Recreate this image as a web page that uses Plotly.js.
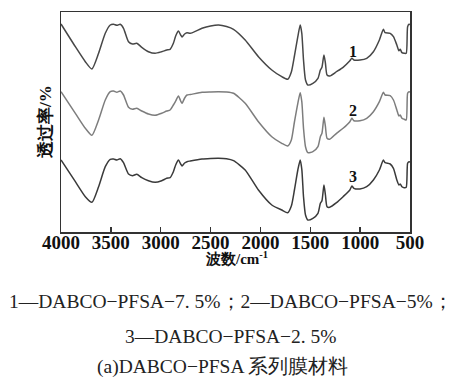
<!DOCTYPE html>
<html>
<head>
<meta charset="utf-8">
<script src="https://cdn.plot.ly/plotly-3.0.1.min.js"></script>
<style>html,body{margin:0;padding:0;background:#fff;}#chart{width:453px;height:378px;}</style>
</head>
<body>
<div id="chart"></div>
<script>
// Wavenumber (cm^-1)
const wavenumber = [4000,3856,3756,3690,3623,3556,3506,3473,3440,3406,3373,3323,3283,3240,3190,3123,3056,2990,2940,2906,2873,2850,2822,2800,2786,2760,2736,2703,2586,2500,2420,2340,2270,2153,2020,1886,1786,1726,1690,1659,1625,1601,1585,1568,1548,1524,1474,1423,1399,1383,1363,1348,1332,1305,1237,1171,1103,1083,1063,1002,934,867,807,767,750,699,666,632,611,598,581,558,538,524,510,500];
// Transmittance (offset, arbitrary units) for each membrane
const series1 = [208,185.3,170.3,163,178.7,198.7,207,207.7,206.7,207.7,203.7,190.3,188,188.7,184.7,180.3,178.7,180.3,182,182.7,188.7,196,201,197,195,198,199.3,198.7,203.7,206,207,205.5,202.7,192,175.3,162,155.3,152.7,160,176,195.3,207,198.7,172,152,147,148.7,153.7,162,164.7,177,168.7,157,156,160.3,164.7,171.3,173.7,172,172,173.7,180.3,192,202.7,199.3,198.7,195.3,187,181.3,182.7,179.3,178.7,178.7,205.3,207.7,207.5];
const series2 = [140.3,118.7,103.7,96.7,112,132,140.3,141,139.7,141,137,124.7,122.7,123.7,121,118,116.7,118.7,121,122,127,131,136,131,128.7,134,137,137.5,139.7,140.1,140.3,140,138.7,128.7,110.3,95.3,88.7,86,92,110,128.7,139.3,130.3,103.7,85.3,79.3,80.3,85.3,95.3,98.7,114.7,105.3,93.7,92.7,98.7,103.7,110.3,113.7,111.3,111.3,113.7,120.3,130.3,139.7,137,136.3,132,122,116,117,113.7,112.7,112,138.7,140.3,140];
const series3 = [72,50.3,35.3,29.7,45.3,65.3,72.7,73,72,73.3,69.3,58,56.3,57.7,54.3,51.3,49.7,51.3,53.7,54.3,60.3,67,72,68,66,69,70.3,71,73,73.5,73.7,73.2,71.3,62,42,27,22,19.3,26,42,62,72,62.7,35.3,17,12,13.7,18.7,28.7,31.3,47,37,25.3,24.7,29.3,35.3,42,46,43.7,43,45.3,52,62,72,69.3,68,63.7,52,47,48,45.3,44.3,44.7,68.7,70.3,70];
const seriesNames = ["1","2","3"];
const seriesColors = ["#474747","#7d7d7d","#3a3a3a"];
const xTicks = [4000,3500,3000,2500,2000,1500,1000,500];
const labelPos = [[1076,180.3],[1076,122],[1076,56]];
const captions = ["1—DABCO−PFSA−7. 5%；2—DABCO−PFSA−5%；","3—DABCO−PFSA−2. 5%","(a)DABCO−PFSA 系列膜材料"];

const serif = "Liberation Serif";
const ys = [series1, series2, series3];
const traces = ys.map((y,i)=>({
  x: wavenumber, y: y, type:'scatter', mode:'lines', name: seriesNames[i],
  line:{color: seriesColors[i], width:1.5, shape:'spline', smoothing:0.6},
  hoverinfo:'skip'
}));

const annotations = labelPos.map((p,i)=>({
  x:p[0], y:p[1], xref:'x', yref:'y', text: '<b>'+seriesNames[i]+'</b>', showarrow:false,
  font:{family:serif, size:16, color:'#111'}, xanchor:'center', yanchor:'middle'
}));
annotations.push({xref:'paper', yref:'paper', x:0.504, y:-0.12, text:'<b>波数/cm<sup>-1</sup></b>', showarrow:false,
  font:{family:serif, size:15, color:'#111'}, xanchor:'center', yanchor:'middle'});
annotations.push({xref:'paper', yref:'paper', x:-0.046, y:0.5, text:'<b>透过率/%</b>', textangle:-90, showarrow:false,
  font:{family:serif, size:17, color:'#111'}, xanchor:'center', yanchor:'middle'});
const capY = [-0.317,-0.476,-0.612];
const capX = [0.4885,0.486,0.463];
captions.forEach((c,i)=>annotations.push({xref:'paper', yref:'paper', x:capX[i], y:capY[i], text:c, showarrow:false,
  font:{family:serif, size:19.5, color:'#222'}, xanchor:'center', yanchor:'middle'}));

const layout = {
  width:453, height:378,
  margin:{l:61, r:43, t:12, b:146, pad:0},
  paper_bgcolor:'#fff', plot_bgcolor:'#fff',
  showlegend:false,
  xaxis:{range:[4000,500], tickvals:xTicks, ticktext:xTicks.map(v=>'<b>'+v+'</b>'), ticks:'inside', ticklen:5, tickwidth:1.3, tickcolor:'#333',
    ticklabelstandoff:-7,
    showline:true, mirror:true, linecolor:'#333', linewidth:1.5, showgrid:false, zeroline:false,
    tickfont:{family:serif, size:19, color:'#111'}},
  yaxis:{range:[0,220], showticklabels:false, ticks:'', showline:true, mirror:true, linecolor:'#333', linewidth:1.5,
    showgrid:false, zeroline:false},
  annotations: annotations
};
Plotly.newPlot('chart', traces, layout, {staticPlot:true, displayModeBar:false});
</script>
</body>
</html>
